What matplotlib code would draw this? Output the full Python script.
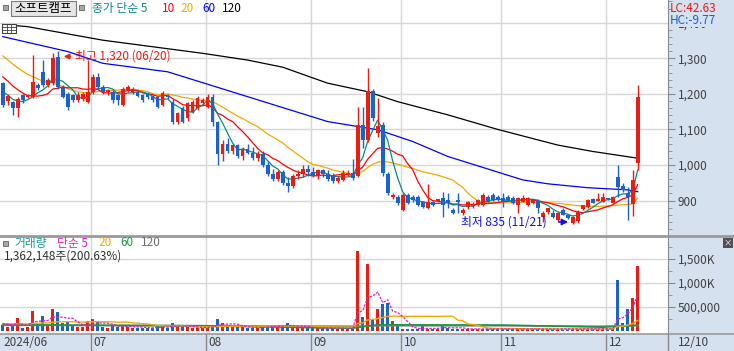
import matplotlib
matplotlib.use('Agg')
import matplotlib.pyplot as plt
from matplotlib.patches import Rectangle
from matplotlib.lines import Line2D
import numpy as np
import pandas as pd

plt.rcParams['font.family'] = ['Noto Sans CJK KR', 'DejaVu Sans']

# ---- daily candles, 2024/06/04 .. 2024/12/10 (128 trading days) ----
opens = [
    # Jun
    1230, 1180, 1176, 1160, 1197, 1190, 1192, 1225, 1262, 1225, 1230, 1305, 1220, 1200, 1197, 1183, 1185, 1178,
    # Jul
    1206, 1248, 1220, 1204, 1206, 1197, 1168, 1210, 1206, 1206, 1197, 1200, 1195, 1192, 1169, 1197, 1178, 1122,
    1160, 1131, 1150, 1160, 1173,
    # Aug
    1164, 1192, 1120, 1030, 1060, 1040, 1055, 1025, 1045, 1035, 1020, 1030, 1000, 975, 960, 980, 950, 940, 970,
    975, 990,
    # Sep
    980, 970, 985, 975, 972, 955, 958, 975, 977, 968, 1113, 1070, 1208, 1091, 1113, 975, 911, 911,
    # Oct
    874, 916, 911, 911, 897, 879, 897, 899, 907, 902, 874, 902, 865, 883, 885, 888, 888, 911, 916, 911,
    # Nov
    907, 911, 907, 888, 897, 888, 893, 900, 855, 869, 864, 846, 874, 860, 836, 841, 875, 883, 905, 900, 897,
    # Dec
    905, 894, 967, 941, 921, 890, 1005,
]
highs = [
    1234, 1200, 1180, 1192, 1200, 1200, 1309, 1230, 1295, 1245, 1314, 1320, 1225, 1205, 1200, 1205, 1205, 1295,
    1255, 1258, 1225, 1215, 1210, 1200, 1220, 1225, 1220, 1210, 1200, 1205, 1198, 1195, 1208, 1200, 1185, 1150,
    1165, 1178, 1182, 1195, 1188,
    1200, 1200, 1125, 1070, 1075, 1060, 1060, 1050, 1060, 1050, 1040, 1040, 1010, 990, 985, 985, 965, 975, 985,
    1000, 1000,
    995, 990, 990, 985, 978, 968, 985, 985, 1016, 1164, 1164, 1272, 1215, 1187, 1120, 980, 920, 915,
    920, 920, 915, 915, 900, 947, 900, 905, 925, 920, 880, 920, 880, 900, 895, 905, 920, 915, 920, 915,
    920, 915, 912, 910, 916, 910, 905, 905, 870, 880, 872, 868, 878, 863, 856, 872, 888, 905, 908, 920, 920,
    908, 912, 1000, 950, 939, 986, 1225,
]
lows = [
    1163, 1170, 1140, 1136, 1175, 1188, 1188, 1210, 1220, 1220, 1225, 1215, 1188, 1155, 1178, 1178, 1180, 1175,
    1200, 1215, 1200, 1198, 1175, 1168, 1165, 1205, 1200, 1190, 1178, 1185, 1178, 1160, 1165, 1185, 1115, 1115,
    1118, 1125, 1145, 1155, 1170,
    1160, 1110, 1000, 1010, 1035, 1030, 1020, 1015, 1030, 1015, 1010, 995, 970, 955, 955, 945, 925, 935, 960,
    965, 970,
    965, 960, 965, 955, 950, 950, 955, 970, 958, 965, 1047, 1065, 1125, 1080, 970, 915, 905, 888,
    870, 890, 895, 885, 880, 875, 885, 895, 855, 880, 862, 865, 860, 875, 880, 885, 885, 895, 900, 900,
    883, 900, 890, 865, 895, 885, 890, 865, 840, 862, 850, 843, 858, 848, 835, 838, 872, 880, 892, 898, 895,
    902, 892, 911, 925, 846, 856, 986,
]
closes = [
    1169, 1195, 1160, 1185, 1183, 1196, 1234, 1216, 1225, 1240, 1300, 1220, 1192, 1164, 1183, 1197, 1200, 1206,
    1248, 1220, 1206, 1210, 1183, 1183, 1215, 1220, 1215, 1195, 1183, 1190, 1183, 1164, 1202, 1190, 1122, 1145,
    1122, 1173, 1178, 1187, 1183,
    1192, 1122, 1030, 1060, 1040, 1055, 1025, 1045, 1035, 1020, 1030, 1000, 975, 960, 980, 950, 940, 970, 975,
    990, 980,
    970, 985, 975, 960, 954, 964, 977, 978, 963, 1113, 1070, 1208, 1131, 1110, 977, 921, 916, 893,
    916, 893, 902, 888, 883, 897, 888, 903, 888, 893, 865, 895, 874, 897, 888, 902, 916, 897, 902, 902,
    897, 902, 893, 907, 907, 907, 904, 878, 866, 878, 855, 864, 860, 850, 853, 869, 886, 902, 894, 903, 910,
    904, 910, 939, 930, 910, 958, 1191,
]
volumes = [  # thousand shares
    120, 80, 90, 260, 60, 70, 420, 150, 300, 110, 450, 380, 160, 200, 90, 70, 80, 200,
    250, 180, 80, 60, 90, 70, 120, 80, 60, 50, 60, 50, 60, 100, 90, 50, 150, 90, 80, 70, 60, 60, 50,
    60, 120, 250, 150, 100, 80, 90, 70, 60, 50, 60, 80, 100, 120, 80, 70, 150, 110, 70, 60, 50,
    50, 60, 50, 60, 50, 40, 60, 40, 40, 1670, 277, 1397, 241, 451, 556, 584, 200, 95,
    30, 30, 40, 30, 90, 30, 30, 40, 125, 60, 30, 40, 30, 30, 30, 40, 30, 30, 30, 30,
    30, 30, 30, 30, 30, 30, 30, 30, 40, 40, 30, 30, 30, 30, 40, 40, 30, 40, 30, 30, 40,
    40, 30, 1060, 164, 451, 689, 1362,
]
# closes / volumes of the 19 days before the window (feed the short averages)
prev_close = [1420, 1400, 1390, 1380, 1370, 1360, 1350, 1340, 1330, 1320,
              1310, 1300, 1290, 1280, 1270, 1240, 1220, 1210, 1190]
prev_volume = [150, 140, 160, 130, 150, 170, 140, 150, 160, 130,
               150, 140, 160, 150, 130, 150, 140, 160, 150]

# long averages: (day index, value)
ma60_pts = [(0, 1361), (13, 1319), (20, 1286), (33, 1262), (49, 1192), (65, 1122), (75, 1099),
            (82, 1066), (89, 1024), (104, 958), (109, 947), (117, 936), (125, 930), (127, 925)]
ma120_pts = [(0, 1395), (5, 1389), (20, 1351), (40, 1314), (49, 1295), (56, 1275), (65, 1230),
             (73, 1206), (79, 1178), (89, 1141), (99, 1100), (111, 1056), (118, 1038), (127, 1019)]
vma60_pts = [(0, 120), (40, 100), (65, 55), (70, 50), (75, 120), (100, 115), (120, 70), (127, 110)]
vma120_pts = [(0, 110), (60, 95), (70, 90), (75, 100), (100, 100), (120, 90), (127, 105)]

month_start = [0, 18, 41, 62, 80, 100, 121]
month_label = ['2024/06', '07', '08', '09', '10', '11', '12']
last_label = '12/10'

price_ticks = [900, 1000, 1100, 1200, 1300, 1400]
vol_ticks = [500, 1000, 1500]
vol_tick_labels = ['500,000', '1,000K', '1,500K']

# ---- colours ----
RED = '#ec1c10'
BLUE = '#1c62cc'
PANEL = '#d6e1ef'
GRID = '#d6d6d6'
AXC = '#8a8a8a'
TXT = '#404040'

W, H = 734, 351
fig = plt.figure(figsize=(W / 100, H / 100), dpi=100)


def box(x0, y0, x1, y1):
    return [x0 / W, 1 - y1 / H, (x1 - x0) / W, (y1 - y0) / H]


def ftext(x, y, s, **kw):
    kw.setdefault('va', 'center')
    return fig.text(x / W, 1 - y / H, s, **kw)


def frect(x0, y0, x1, y1, **kw):
    fig.patches.append(Rectangle((x0 / W, 1 - y1 / H), (x1 - x0) / W, (y1 - y0) / H,
                                 transform=fig.transFigure, **kw))


# right scale panel and bottom date strip
frect(668, 0, 734, 351, fc=PANEL, ec='none', zorder=-1)
frect(0, 334, 734, 351, fc=PANEL, ec='none', zorder=-1)

ax_p = fig.add_axes(box(0, 0, 668, 235))
ax_v = fig.add_axes(box(0, 237, 668, 333))

o = np.array(opens, float)
h = np.array(highs, float)
l = np.array(lows, float)
c = np.array(closes, float)
v = np.array(volumes, float)
x = np.arange(len(c))
col = np.where(c >= o, RED, BLUE)

xmin, xmax = -0.54, -0.54 + 668 / 5.0
for ax in (ax_p, ax_v):
    ax.set_xlim(xmin, xmax)
    ax.set_facecolor('white')
    for s in ('top', 'left', 'bottom'):
        ax.spines[s].set_visible(False)
    ax.spines['right'].set_color(AXC)
    ax.yaxis.tick_right()
    ax.tick_params(axis='x', bottom=False, labelbottom=False)
    ax.tick_params(axis='y', which='both', direction='out', colors=AXC, labelcolor=TXT,
                   labelsize=8.5, pad=2)
    ax.tick_params(axis='y', which='major', length=5)
    ax.tick_params(axis='y', which='minor', length=3)
    for m in month_start[1:]:
        ax.axvline(m - 0.25, color=GRID, lw=1, zorder=0)

# ---- price panel ----
ax_p.set_ylim(803, 1464)
ax_p.set_yticks(price_ticks)
ax_p.set_yticklabels([f'{t:,}' for t in price_ticks])
ax_p.set_yticks(np.arange(820, 1461, 20), minor=True)
for t in price_ticks:
    ax_p.axhline(t, color=GRID, lw=1, zorder=0)

full_c = pd.Series(prev_close + closes, dtype=float)
n0 = len(prev_close)
ma5 = full_c.rolling(5).mean().to_numpy()[n0:]
ma10 = full_c.rolling(10).mean().to_numpy()[n0:]
ma20 = full_c.rolling(20).mean().to_numpy()[n0:]
ax_p.plot(*zip(*ma120_pts), color='black', lw=0.9, zorder=2)
ax_p.plot(*zip(*ma60_pts), color='#0000ff', lw=0.9, zorder=2)
ax_p.plot(x, ma20, color='#f5a800', lw=0.9, zorder=2)
ax_p.plot(x, ma10, color='#ff0000', lw=0.9, zorder=2)
ax_p.plot(x, ma5, color='#0a8a80', lw=0.9, zorder=2)

ax_p.vlines(x, l, h, color=col, lw=1, zorder=3)
ax_p.bar(x, np.maximum(np.abs(c - o), 3), bottom=np.minimum(o, c), width=0.72,
         color=col, lw=0, zorder=4)

# ---- volume panel ----
ax_v.set_ylim(-52, 1963)
ax_v.set_yticks(vol_ticks)
ax_v.set_yticklabels(vol_tick_labels)
ax_v.set_yticks(np.arange(250, 1951, 250), minor=True)
for t in vol_ticks:
    ax_v.axhline(t, color=GRID, lw=1, zorder=0)
ax_v.bar(x, v, width=0.62, color=col, lw=0, zorder=3)
full_v = pd.Series(prev_volume + volumes, dtype=float)
n1 = len(prev_volume)
vma5 = full_v.rolling(5).mean().to_numpy()[n1:]
vma20 = full_v.rolling(20).mean().to_numpy()[n1:]
ax_v.plot(*zip(*vma120_pts), color='#808080', lw=1.2, zorder=4)
ax_v.plot(*zip(*vma60_pts), color='#139a40', lw=1.2, zorder=4)
ax_v.plot(x, vma20, color='#f5a800', lw=1.0, zorder=4)
ax_v.plot(x, vma5, color='#e020c0', lw=0.9, ls=(0, (2, 1)), zorder=4)

# ---- separators ----
for yy, lw in ((235.5, 2.0), (333.5, 1.2)):
    fig.add_artist(Line2D([0, 1], [1 - yy / H] * 2, color='#9a9a9a', lw=lw))

# ---- date strip ----
for m, lab in zip(month_start, month_label):
    px = (m - 0.25 - xmin) * 5.0
    if m > 0:
        fig.add_artist(Line2D([px / W] * 2, [0, 17 / H], color=AXC, lw=1))
    ftext(max(px, 0) + 2, 343, lab, fontsize=8.5, color=TXT)
fig.add_artist(Line2D([668 / W] * 2, [0, 17 / H], color=AXC, lw=1))
ftext(678, 343, last_label, fontsize=8.5, color=TXT)

# ---- top legend ----
frect(3, 5, 8, 10, fc='#a8a8a8', ec='#606060', lw=0.6)
frect(11, 1, 76, 16, fc='#e6e6e6', ec='#7a7a7a', lw=0.8)
ftext(43.5, 8.5, '소프트캠프', fontsize=9, color='black', ha='center')
frect(79, 5, 84, 10, fc='#a8a8a8', ec='#606060', lw=0.6)
ftext(92, 8.5, '종가 단순 5', fontsize=8.5, color='#0a8a80')
ftext(162, 8.5, '10', fontsize=8.5, color='#ff0000')
ftext(180, 8.5, '20', fontsize=8.5, color='#f5a800')
ftext(202, 8.5, '60', fontsize=8.5, color='#0000ff')
ftext(222, 8.5, '120', fontsize=8.5, color='black')

# small table icon under the legend
frect(2, 24, 16, 33, fc='white', ec='#404040', lw=0.8)
for yy in (27, 30):
    fig.add_artist(Line2D([2 / W, 16 / W], [1 - yy / H] * 2, color='#404040', lw=0.6))
for xx in (6.5, 11):
    fig.add_artist(Line2D([xx / W] * 2, [1 - 24 / H, 1 - 33 / H], color='#404040', lw=0.6))

ftext(670, 8, 'LC:42.63', fontsize=8.5, color=RED)
ftext(670, 20, 'HC:-9.77', fontsize=8.5, color='#1a5fd6',
      bbox=dict(fc=PANEL, ec='none', pad=0.5))

# ---- volume legend ----
frect(3, 241, 8, 246, fc='#a8a8a8', ec='#606060', lw=0.6)
ftext(14, 243, '거래량', fontsize=8.5, color='#1a9a9a')
ftext(57, 243, '단순 5', fontsize=8.5, color='#e020c0')
ftext(98, 243, '20', fontsize=8.5, color='#f5a800')
ftext(120, 243, '60', fontsize=8.5, color='#139a40')
ftext(141, 243, '120', fontsize=8.5, color='#707070')
ftext(4, 256, '1,362,148주(200.63%)', fontsize=8.5, color='#303030')
ftext(728, 243, '×', fontsize=6, color='white', ha='center',
      bbox=dict(boxstyle='square,pad=0.1', fc='#505050', ec='none'))

# ---- high / low markers ----
ax_p.annotate('', xy=(61, H - 56.5), xytext=(73, H - 56.5), xycoords='figure pixels',
              arrowprops=dict(arrowstyle='-|>', color=RED, lw=1, mutation_scale=8))
ftext(75, 56.5, '최고 1,320 (06/20)', fontsize=8.5, color=RED)
ftext(461, 222, '최저 835 (11/21)', fontsize=8.5, color='#1010e0')
ax_p.annotate('', xy=(571, H - 222), xytext=(556, H - 222), xycoords='figure pixels',
              arrowprops=dict(arrowstyle='-|>', color='#1010e0', lw=1.2, mutation_scale=9))

fig.savefig('out.png', dpi=100)
